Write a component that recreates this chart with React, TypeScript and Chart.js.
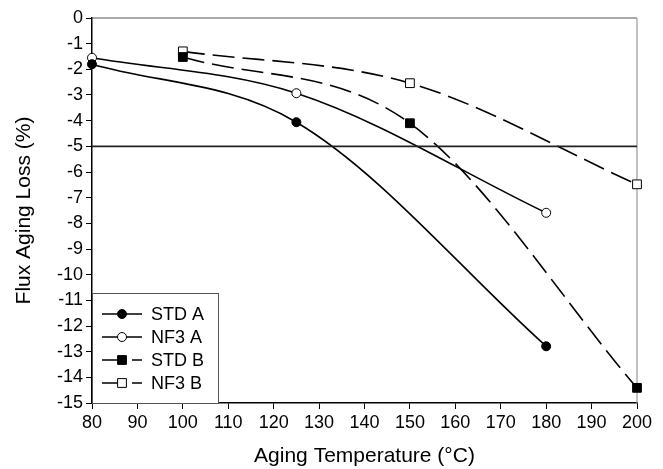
import { useEffect, useRef } from 'react';
import { Chart, registerables } from 'chart.js';

Chart.register(...registerables);

const seriesNames = ['STD A', 'NF3 A', 'STD B', 'NF3 B'];
const stdAX = [80, 125, 180];
const stdAY = [-1.8, -4.06, -12.79];
const nf3AX = [80, 125, 180];
const nf3AY = [-1.55, -2.93, -7.59];
const stdBX = [100, 150, 200];
const stdBY = [-1.52, -4.1, -14.41];
const nf3BX = [100, 150, 200];
const nf3BY = [-1.3, -2.54, -6.48];
const limitX = [80, 200];
const limitY = [-5, -5];
const xMin = 80;
const xMax = 200;
const xStep = 10;
const yMin = -15;
const yMax = 0;
const yStep = 1;
const xTitle = 'Aging Temperature (°C)';
const yTitle = 'Flux Aging Loss (%)';

const FONT = "'Liberation Sans', Arial, sans-serif";

const pts = (xs: number[], ys: number[]) => xs.map((x, i) => ({ x, y: ys[i] }));

const styles = [
  { fill: '#000', style: 'circle', radius: 4.5, dash: [] as number[] },
  { fill: '#fff', style: 'circle', radius: 4.5, dash: [] as number[] },
  { fill: '#000', style: 'rect', radius: 6.2, dash: [22, 8] },
  { fill: '#fff', style: 'rect', radius: 6.2, dash: [22, 8] },
];

const frame = {
  id: 'frame',
  beforeDatasetsDraw(chart: any) {
    const { ctx, chartArea: a } = chart;
    ctx.save();
    ctx.lineWidth = 1.2;
    ctx.strokeStyle = '#555';
    ctx.beginPath();
    ctx.moveTo(a.left, a.top);
    ctx.lineTo(a.right, a.top);
    ctx.stroke();
    ctx.strokeStyle = '#999';
    ctx.beginPath();
    ctx.moveTo(a.right, a.top);
    ctx.lineTo(a.right, a.bottom);
    ctx.stroke();
    ctx.restore();
  },
};

const legend = {
  id: 'boxLegend',
  afterDraw(chart: any) {
    const { ctx, chartArea: a } = chart;
    const left = a.left;
    const right = left + 127;
    const top = 293;
    const bottom = a.bottom;
    ctx.save();
    ctx.fillStyle = '#fff';
    ctx.fillRect(left, top, right - left, bottom - top);
    ctx.strokeStyle = '#555';
    ctx.lineWidth = 1;
    ctx.strokeRect(left + 0.5, top + 0.5, right - left - 1, bottom - top);
    seriesNames.forEach((name, i) => {
      const y = top + 21 + i * 23;
      const s = styles[i];
      ctx.strokeStyle = '#000';
      ctx.lineWidth = 1.6;
      ctx.setLineDash(s.dash);
      ctx.beginPath();
      ctx.moveTo(left + 10, y);
      ctx.lineTo(left + 50, y);
      ctx.stroke();
      ctx.setLineDash([]);
      ctx.fillStyle = s.fill;
      ctx.lineWidth = 1;
      ctx.beginPath();
      if (s.style === 'circle') {
        ctx.arc(left + 30, y, 4.5, 0, Math.PI * 2);
      } else {
        ctx.rect(left + 30 - 4.4, y - 4.4, 8.8, 8.8);
      }
      ctx.fill();
      ctx.stroke();
      ctx.fillStyle = '#000';
      ctx.font = `18px ${FONT}`;
      ctx.textBaseline = 'middle';
      ctx.textAlign = 'left';
      ctx.fillText(name, left + 59, y + 1);
    });
    ctx.restore();
  },
};

export default function App() {
  const ref = useRef<HTMLCanvasElement>(null);
  useEffect(() => {
    document.body.style.margin = '0';
    const series = [
      pts(stdAX, stdAY),
      pts(nf3AX, nf3AY),
      pts(stdBX, stdBY),
      pts(nf3BX, nf3BY),
    ];
    const datasets: any[] = [
      {
        label: 'limit',
        data: pts(limitX, limitY),
        borderColor: '#222',
        borderWidth: 1.6,
        pointRadius: 0,
        tension: 0,
        clip: false,
      },
      ...series.map((d, i) => ({
        label: seriesNames[i],
        data: d,
        borderColor: '#000',
        borderWidth: 1.6,
        borderDash: styles[i].dash,
        cubicInterpolationMode: 'monotone',
        tension: 0.4,
        pointStyle: styles[i].style,
        pointRadius: styles[i].radius,
        pointBackgroundColor: styles[i].fill,
        pointBorderColor: '#000',
        pointBorderWidth: 1,
        clip: false,
      })),
    ];
    const chart = new Chart(ref.current!, {
      type: 'line',
      data: { datasets },
      plugins: [frame, legend],
      options: {
        animation: false,
        responsive: false,
        devicePixelRatio: 1,
        events: [],
        layout: { padding: { top: 18, right: 26, left: 0, bottom: 0 } },
        plugins: { legend: { display: false }, tooltip: { enabled: false } },
        scales: {
          x: {
            type: 'linear',
            min: xMin,
            max: xMax,
            afterFit: (s: any) => { s.height = 66; },
            ticks: { stepSize: xStep, color: '#000', font: { family: FONT, size: 18 }, padding: 3, maxRotation: 0 },
            grid: { display: true, drawOnChartArea: false, drawTicks: true, tickLength: 6, tickColor: '#000', tickWidth: 1 },
            border: { color: '#000', width: 1.5 },
            title: { display: true, text: xTitle, color: '#000', font: { family: FONT, size: 21 }, padding: { top: 0, bottom: 0 } },
          },
          y: {
            type: 'linear',
            min: yMin,
            max: yMax,
            afterFit: (s: any) => { s.width = 92; },
            ticks: { stepSize: yStep, color: '#000', font: { family: FONT, size: 18 }, padding: 3 },
            grid: { display: true, drawOnChartArea: false, drawTicks: true, tickLength: 6, tickColor: '#000', tickWidth: 1 },
            border: { color: '#000', width: 1.5 },
            title: { display: true, text: yTitle, color: '#000', font: { family: FONT, size: 21 }, padding: { top: 12, bottom: 0 } },
          },
        },
      } as any,
    });
    return () => chart.destroy();
  }, []);
  return (
    <div style={{ width: 663, height: 469 }}>
      <canvas ref={ref} width={663} height={469} style={{ display: 'block' }} />
    </div>
  );
}
